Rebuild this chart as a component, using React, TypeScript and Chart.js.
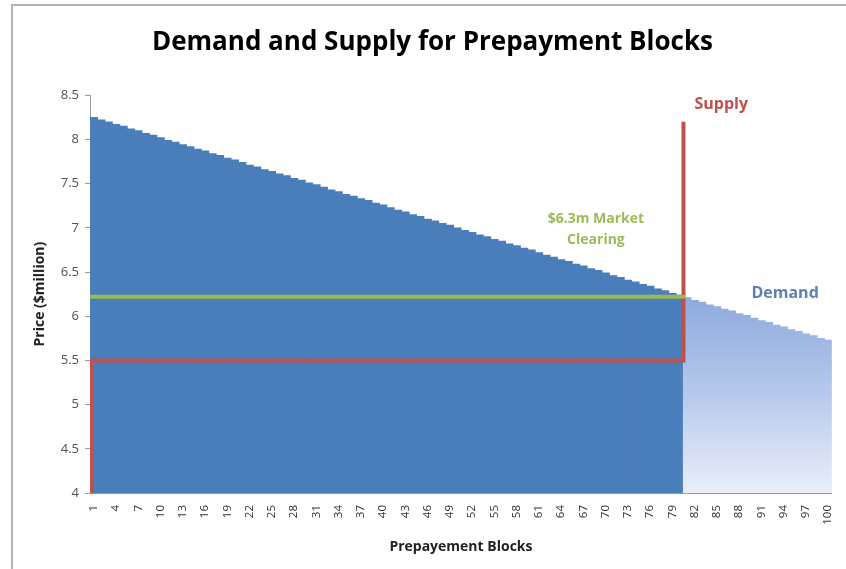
import { useEffect, useRef } from 'react';
import { Chart, registerables } from 'chart.js';

Chart.register(...registerables);

const blocks: string[] = Array.from({ length: 100 }, (_, i) => String(i + 1));

const demand: number[] = [
  8.25, 8.22, 8.2, 8.17, 8.15, 8.12, 8.1, 8.07, 8.05, 8.02,
  7.99, 7.97, 7.94, 7.92, 7.89, 7.87, 7.84, 7.82, 7.79, 7.77,
  7.74, 7.71, 7.69, 7.66, 7.64, 7.61, 7.59, 7.56, 7.54, 7.51,
  7.49, 7.46, 7.43, 7.41, 7.38, 7.36, 7.33, 7.31, 7.28, 7.26,
  7.23, 7.2, 7.18, 7.15, 7.13, 7.1, 7.08, 7.05, 7.03, 7.0,
  6.97, 6.95, 6.92, 6.9, 6.87, 6.85, 6.82, 6.8, 6.77, 6.75,
  6.72, 6.69, 6.67, 6.64, 6.62, 6.59, 6.57, 6.54, 6.52, 6.49,
  6.46, 6.44, 6.41, 6.39, 6.36, 6.34, 6.31, 6.29, 6.26, 6.24,
  6.21, 6.18, 6.16, 6.13, 6.11, 6.08, 6.06, 6.03, 6.01, 5.98,
  5.95, 5.93, 5.9, 5.88, 5.85, 5.83, 5.8, 5.78, 5.75, 5.73,
];

const clearedBlocks = 80;

const supplyX: number[] = [0.75, 0.75, 80.5, 80.5];
const supplyY: number[] = [4, 5.5, 5.5, 8.2];

const clearingX: number[] = [0.5, 80.75];
const clearingY: number[] = [6.22, 6.22];

const yMin = 4;
const yMax = 8.5;
const yStep = 0.5;

const labelEvery = 3;

const annotations = [
  { lines: ['Supply'], x: 85.6, y: 8.4, color: '#c0504d', size: 16 },
  { lines: ['$6.3m Market', 'Clearing'], x: 68.7, y: 6.98, color: '#9bbb59', size: 14 },
  { lines: ['Demand'], x: 94.2, y: 6.26, color: '#5b80b3', size: 16 },
];

const FONT = '"Open Sans", Lato, sans-serif';

const annotationPlugin = {
  id: 'textAnnotations',
  afterDatasetsDraw(chart: any) {
    const ctx = chart.ctx;
    const xs = chart.scales.x2;
    const ys = chart.scales.y;
    ctx.save();
    ctx.textAlign = 'center';
    ctx.textBaseline = 'middle';
    for (const a of annotations) {
      ctx.font = `bold ${a.size}px ${FONT}`;
      ctx.fillStyle = a.color;
      const px = xs.getPixelForValue(a.x);
      const py = ys.getPixelForValue(a.y);
      const lh = a.size * 1.5;
      const start = py - ((a.lines.length - 1) * lh) / 2;
      a.lines.forEach((l, i) => ctx.fillText(l, px, start + i * lh));
    }
    ctx.restore();
  },
};

export default function App() {
  const ref = useRef<HTMLCanvasElement | null>(null);

  useEffect(() => {
    if (!ref.current) return;
    const darkBlue = '#4a7ebb';
    const chart = new Chart(ref.current, {
      data: {
        labels: blocks,
        datasets: [
          {
            type: 'line',
            label: 'Market Clearing',
            xAxisID: 'x2',
            data: clearingX.map((x, i) => ({ x, y: clearingY[i] })),
            borderColor: '#9bbb59',
            borderWidth: 4,
            pointRadius: 0,
            fill: false,
            order: 0,
          } as any,
          {
            type: 'line',
            label: 'Supply',
            xAxisID: 'x2',
            data: supplyX.map((x, i) => ({ x, y: supplyY[i] })),
            borderColor: '#c0504d',
            borderWidth: 4,
            pointRadius: 0,
            fill: false,
            borderJoinStyle: 'miter',
            order: 1,
          } as any,
          {
            type: 'bar',
            label: 'Demand',
            xAxisID: 'x',
            data: demand,
            categoryPercentage: 1,
            barPercentage: 1,
            barThickness: 7.9,
            grouped: false,
            borderWidth: 0,
            order: 2,
            backgroundColor: (c: any) => {
              if (c.dataIndex < clearedBlocks) return darkBlue;
              const ch = c.chart;
              const area = ch.chartArea;
              if (!area) return '#a9bfe6';
              const top = ch.scales.y.getPixelForValue(demand[clearedBlocks]);
              const g = ch.ctx.createLinearGradient(0, top, 0, area.bottom);
              g.addColorStop(0, '#8eaade');
              g.addColorStop(0.5, '#b7c9ec');
              g.addColorStop(1, '#e9eff9');
              return g;
            },
          } as any,
        ],
      },
      options: {
        responsive: false,
        animation: false,
        datasets: { bar: { categoryPercentage: 1, barPercentage: 1 } },
        layout: { padding: { left: 32, right: 13, top: 0, bottom: 14 } },
        plugins: {
          legend: { display: false },
          tooltip: { enabled: false },
          title: {
            display: true,
            text: 'Demand and Supply for Prepayment Blocks',
            color: '#000',
            font: { family: FONT, size: 26, weight: 'bold' },
            padding: { top: 27, bottom: 37 },
          },
        },
        scales: {
          x: {
            type: 'category',
            offset: true,
            grid: { display: false },
            border: { display: true, color: '#9a9a9a', width: 1 },
            afterFit: (s: any) => {
              s.height = 62;
            },
            ticks: {
              autoSkip: false,
              minRotation: 90,
              maxRotation: 90,
              color: '#303030',
              font: { family: FONT, size: 11.5 },
              padding: 4,
              callback: (_v: any, i: number) => (i % labelEvery === 0 ? blocks[i] : ''),
            },
            title: {
              display: true,
              text: 'Prepayement Blocks',
              color: '#222',
              font: { family: FONT, size: 14, weight: 'bold' },
              padding: { top: 10, bottom: 0 },
            },
          },
          x2: {
            type: 'linear',
            display: false,
            offset: false,
            grid: { offset: false },
            min: 0.5,
            max: 100.5,
          },
          y: {
            min: yMin,
            max: yMax,
            afterFit: (s: any) => {
              s.width = 58;
            },
            ticks: {
              stepSize: yStep,
              color: '#505050',
              font: { family: FONT, size: 13 },
              padding: 6,
              callback: (v: any) => String(Number(v)),
            },
            grid: {
              display: true,
              drawOnChartArea: false,
              drawTicks: true,
              tickLength: 5,
              color: '#9a9a9a',
            },
            border: { display: true, color: '#9a9a9a', width: 1 },
            title: {
              display: true,
              text: 'Price ($million)',
              color: '#222',
              font: { family: FONT, size: 14, weight: 'bold' },
              padding: { top: 0, bottom: 4 },
            },
          },
        },
      },
      plugins: [annotationPlugin],
    } as any);
    return () => chart.destroy();
  }, []);

  return (
    <div style={{ position: 'absolute', left: 0, top: 0, width: 846, height: 569, background: '#fff' }}>
      <div
        style={{
          position: 'absolute',
          left: 11,
          top: 4,
          width: 835,
          height: 565,
          borderLeft: '2px solid #b4b4b4',
          borderTop: '2px solid #b4b4b4',
          boxSizing: 'border-box',
        }}
      />
      <canvas ref={ref} width={846} height={569} style={{ position: 'absolute', left: 0, top: 0, width: 846, height: 569 }} />
    </div>
  );
}
